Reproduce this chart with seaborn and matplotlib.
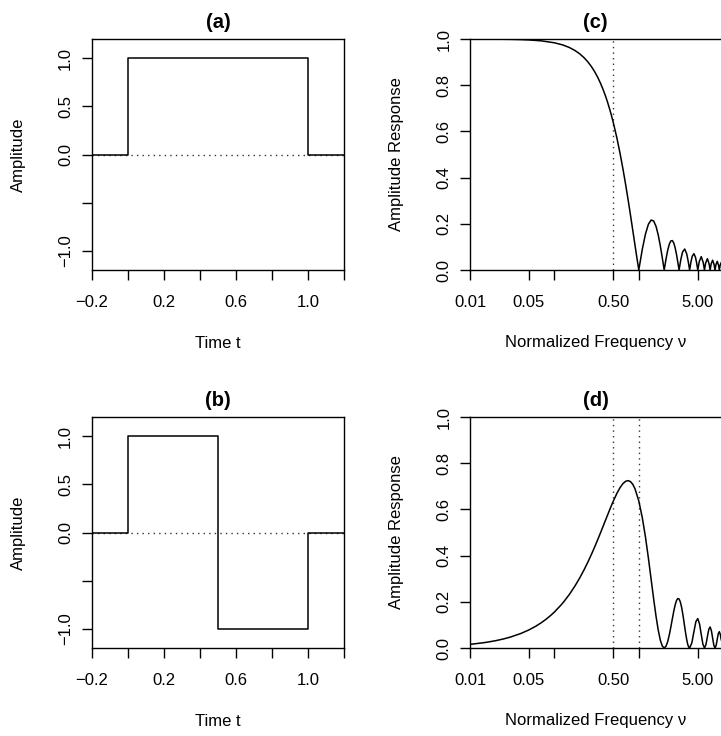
import matplotlib
matplotlib.use("Agg")
import matplotlib.pyplot as plt
import seaborn as sns
from matplotlib.ticker import NullLocator

sns.set_theme(style="ticks")
plt.rcParams['font.family'] = ['Liberation Sans', 'DejaVu Sans']

# time-domain pulses (step values, post-step)
time_a = [-0.2, 0.0, 1.0, 1.2]
amp_a = [0.0, 1.0, 0.0, 0.0]
time_b = [-0.2, 0.0, 0.5, 1.0, 1.2]
amp_b = [0.0, 1.0, -1.0, 0.0, 0.0]

# amplitude response
nu_c = [0.01, 0.02, 0.03, 0.04, 0.05, 0.07, 0.1, 0.125, 0.15, 0.175, 0.2, 0.225, 0.25, 0.275,
        0.3, 0.325, 0.35, 0.375, 0.4, 0.425, 0.45, 0.475, 0.5,
        0.55, 0.6, 0.65, 0.7, 0.75, 0.8, 0.85, 0.9, 0.95, 1.0,
        1.1, 1.2, 1.3, 1.4, 1.5, 1.6, 1.7, 1.8, 1.9, 2.0,
        2.1, 2.2, 2.3, 2.4, 2.5, 2.6, 2.7, 2.8, 2.9, 3.0,
        3.15, 3.3, 3.5, 3.7, 3.85, 4.0,
        4.15, 4.3, 4.5, 4.7, 4.85, 5.0,
        5.2, 5.5, 5.8, 6.0, 6.2, 6.5, 6.8, 7.0,
        7.2, 7.5, 7.8, 8.0, 8.2, 8.5, 8.8, 9.0, 9.2, 9.5]
resp_c = [0.9998, 0.9993, 0.9985, 0.9974, 0.9959, 0.9920, 0.9836, 0.9745, 0.9634, 0.9504, 0.9355, 0.9188, 0.9003, 0.8802,
          0.8584, 0.8351, 0.8103, 0.7842, 0.7568, 0.7283, 0.6985, 0.6681, 0.6366,
          0.5717, 0.5046, 0.4361, 0.3679, 0.3001, 0.2339, 0.1700, 0.1093, 0.0525, 0.0,
          0.0894, 0.1559, 0.1981, 0.2162, 0.2122, 0.1892, 0.1515, 0.1039, 0.0518, 0.0,
          0.0468, 0.0850, 0.1120, 0.1261, 0.1273, 0.1164, 0.0954, 0.0668, 0.0339, 0.0,
          0.0459, 0.0780, 0.0909, 0.0696, 0.0375, 0.0,
          0.0348, 0.0599, 0.0707, 0.0548, 0.0298, 0.0,
          0.0360, 0.0579, 0.0323, 0.0, 0.0302, 0.0490, 0.0275, 0.0,
          0.0260, 0.0424, 0.0240, 0.0, 0.0228, 0.0374, 0.0213, 0.0, 0.0203, 0.0335]

# amplitude response
nu_d = [0.01, 0.015, 0.02, 0.025, 0.03, 0.04, 0.05, 0.06, 0.07, 0.08, 0.09, 0.1, 0.12, 0.13,
        0.15, 0.175, 0.2, 0.225, 0.25, 0.275, 0.3, 0.325, 0.35, 0.375, 0.4, 0.425, 0.45, 0.475, 0.5,
        0.55, 0.6, 0.65, 0.7, 0.75, 0.8, 0.85, 0.9, 1.0,
        1.1, 1.2, 1.3, 1.4, 1.5, 1.6, 1.7, 1.8, 1.9, 2.0,
        2.1, 2.2, 2.3, 2.4, 2.5, 2.6, 2.7, 2.8, 2.9, 3.0,
        3.1, 3.2, 3.3, 3.4, 3.5, 3.6, 3.7, 3.8, 3.9, 4.0,
        4.25, 4.5, 4.75, 5.0, 5.25, 5.5, 5.75, 6.0,
        6.25, 6.5, 6.75, 7.0, 7.25, 7.5, 7.75, 8.0,
        8.25, 8.5, 8.75, 9.0, 9.25, 9.5]
resp_d = [0.0157, 0.0236, 0.0314, 0.0393, 0.0471, 0.0628, 0.0784, 0.0940, 0.1095, 0.1250, 0.1404, 0.1558, 0.1863, 0.2014,
          0.2313, 0.2680, 0.3040, 0.3390, 0.3729, 0.4058, 0.4374, 0.4677, 0.4966, 0.5240, 0.5499, 0.5741, 0.5967, 0.6176, 0.6366,
          0.6693, 0.6945, 0.7120, 0.7220, 0.7245, 0.7198, 0.7081, 0.6900, 0.6366,
          0.5646, 0.4799, 0.3888, 0.2976, 0.2122, 0.1375, 0.0772, 0.0338, 0.0082, 0.0,
          0.0074, 0.0276, 0.0571, 0.0916, 0.1273, 0.1603, 0.1872, 0.2057, 0.2142, 0.2122,
          0.2003, 0.1800, 0.1532, 0.1226, 0.0910, 0.0611, 0.0355, 0.0160, 0.0040, 0.0,
          0.0219, 0.0707, 0.1144, 0.1273, 0.1035, 0.0579, 0.0162, 0.0,
          0.0149, 0.0490, 0.0805, 0.0910, 0.0750, 0.0424, 0.0120, 0.0,
          0.0113, 0.0375, 0.0621, 0.0707, 0.0587, 0.0335]

vlines_c = [0.5]
vlines_d = [0.5, 1.0]

freq_ticks = [0.01, 0.05, 0.1, 0.5, 1.0, 5.0]
freq_labels = ["0.01", "0.05", "", "0.50", "", "5.00"]
time_ticks = [-0.2, 0.0, 0.2, 0.4, 0.6, 0.8, 1.0, 1.2]
time_labels = ["\u22120.2", "", "0.2", "", "0.6", "", "1.0", ""]
amp_ticks = [-1.0, -0.5, 0.0, 0.5, 1.0]
amp_labels = ["\u22121.0", "", "0.0", "0.5", "1.0"]
resp_ticks = [0.0, 0.2, 0.4, 0.6, 0.8, 1.0]
resp_labels = ["0.0", "0.2", "0.4", "0.6", "0.8", "1.0"]

W, H = 721, 736
fig = plt.figure(figsize=(W / 100, H / 100), dpi=100)
fig.patch.set_facecolor('white')

TICK_FS = 12
LAB_FS = 12
TITLE_FS = 14.5
dotted = (0, (1, 3))


def style_axes(ax, right_open=False):
    ax.set_facecolor('white')
    for name, sp in ax.spines.items():
        sp.set_color('black')
        sp.set_linewidth(1.0)
    if right_open:
        ax.spines['right'].set_visible(False)
    ax.tick_params(axis='both', direction='out', length=7, width=1.0,
                   color='black', labelsize=TICK_FS, labelcolor='black')
    ax.tick_params(axis='x', pad=11)
    ax.tick_params(axis='y', pad=6.5, labelrotation=90)
    ax.grid(False)


def finish_labels(ax, title, xlabel, ylabel, w_px, h_px):
    ax.set_title(title, fontsize=TITLE_FS, fontweight='bold', pad=8, color='black')
    ax.set_xlabel(xlabel, fontsize=LAB_FS, va='center', color='black')
    ax.set_ylabel(ylabel, fontsize=LAB_FS, va='center', color='black')
    ax.xaxis.set_label_coords(0.5, -73 / h_px)
    ax.yaxis.set_label_coords(-73.5 / w_px, 0.5)
    for lbl in ax.get_yticklabels():
        lbl.set_va('center')


def time_panel(rect, t, a, title):
    ax = fig.add_axes(rect)
    ax.axhline(0, color='#333333', lw=1.0, ls=dotted)
    sns.lineplot(x=t, y=a, ax=ax, color='black', lw=1.1,
                 drawstyle='steps-post', estimator=None, sort=False)
    ax.set_xlim(-0.2, 1.2)
    ax.set_ylim(-1.2, 1.2)
    ax.set_xticks(time_ticks)
    ax.set_xticklabels(time_labels)
    ax.set_yticks(amp_ticks)
    ax.set_yticklabels(amp_labels)
    style_axes(ax)
    finish_labels(ax, title, "Time t", "Amplitude", 252.6, 231)
    return ax


def freq_panel(rect, nu, r, cuts, title):
    ax = fig.add_axes(rect)
    for c in cuts:
        ax.axvline(c, color='#333333', lw=1.0, ls=dotted)
    sns.lineplot(x=nu, y=r, ax=ax, color='black', lw=1.1,
                 estimator=None, sort=False)
    ax.set_xscale('log')
    ax.set_xlim(0.01, 9.42)
    ax.set_ylim(0.0, 1.0)
    ax.set_xticks(freq_ticks)
    ax.set_xticklabels(freq_labels)
    ax.xaxis.set_minor_locator(NullLocator())
    ax.set_yticks(resp_ticks)
    ax.set_yticklabels(resp_labels)
    style_axes(ax, right_open=True)
    finish_labels(ax, title, "Normalized Frequency \u03bd", "Amplitude Response", 251, 231)
    return ax


left_x = 91.7 / W
left_w = (344.3 - 91.7) / W
right_x = 470 / W
right_w = 1.0 - right_x
ph = 231 / H
top_y = 1 - 270 / H
bot_y = 1 - 648 / H

time_panel([left_x, top_y, left_w, ph], time_a, amp_a, "(a)")
time_panel([left_x, bot_y, left_w, ph], time_b, amp_b, "(b)")
freq_panel([right_x, top_y, right_w, ph], nu_c, resp_c, vlines_c, "(c)")
freq_panel([right_x, bot_y, right_w, ph], nu_d, resp_d, vlines_d, "(d)")

fig.savefig("out.png", dpi=100, facecolor='white')
